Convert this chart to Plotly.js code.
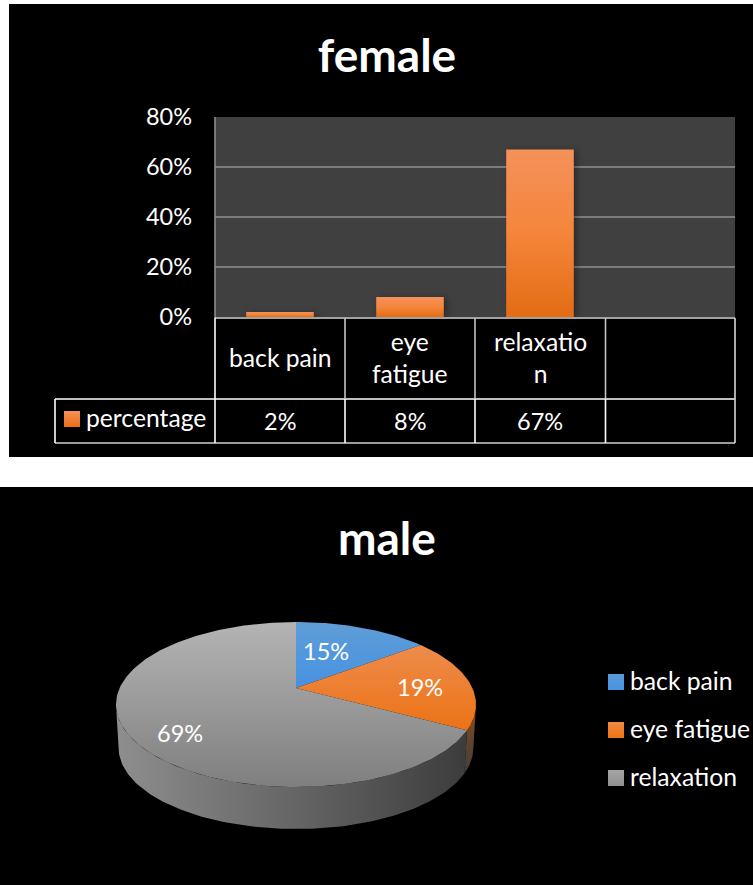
<!DOCTYPE html>
<html>
<head>
<meta charset="utf-8">
<script src="https://cdn.plot.ly/plotly-3.0.1.min.js"></script>
<style>html,body{margin:0;padding:0;background:#fff}</style>
</head>
<body>
<div id="chart" style="width:753px;height:885px"></div>
<script>
// Survey results: female (bars with a data table) and male (tilted pie)
const femaleCategories = ['back pain', 'eye fatigue', 'relaxation', ' '];
const femaleLabels = ['back pain', 'eye<br>fatigue', 'relaxatio<br>n', ''];
const femaleValues = [0.02, 0.08, 0.67, null];
const seriesName = 'percentage';
const yTicks = [0, 0.2, 0.4, 0.6, 0.8];

const maleCategories = ['back pain', 'eye fatigue', 'relaxation'];
const maleValues = [15, 19, 69];
const maleColors = ['#5b9bd5', '#f08a42', '#a5a5a5'];
const maleColorsLow = ['#4692e2', '#ec7215', '#8f8f8f'];

const W = 753, H = 885;
const FONT = 'Lato, "Open Sans", sans-serif';
const px = x => x / W;
const py = y => 1 - y / H;

// Perspective projection of the pie disc onto the frame
const CX = 296, CY = 688, D = 5, FX = 882, FY = 396;
function project(theta, base) {
  const X = Math.sin(theta), Z = Math.cos(theta), k = D + Z;
  const sx = base ? 0.985 : 1, sy = base ? 0.98 : 1, drop = base ? 44 : 0;
  return [CX + sx * FX * X / k, CY + drop - sy * FY * Z / k];
}
function arc(from, to, base) {
  const n = Math.max(2, Math.ceil(Math.abs(to - from) / 0.02));
  const pts = [];
  for (let i = 0; i <= n; i++) pts.push(project(from + (to - from) * i / n, base));
  return pts;
}
function polyTrace(name, pts, gradType, stops) {
  return {
    type: 'scatter', mode: 'lines', name, xaxis: 'x2', yaxis: 'y2',
    x: pts.map(p => p[0]), y: pts.map(p => p[1]),
    fill: 'toself', line: {width: 0}, hoverinfo: 'skip',
    fillgradient: {type: gradType, colorscale: stops}
  };
}

// Slice angles follow the values, clockwise from twelve o'clock
const total = maleValues.reduce((a, b) => a + b, 0);
const edges = [0];
maleValues.forEach(v => edges.push(edges[edges.length - 1] + v / total * 2 * Math.PI));

const topStops = [
  [[0, '#4692e2'], [1, '#5f9dd6']],
  [[0, '#ec7215'], [1, '#ee8c4c']],
  [[0, '#7f7f7f'], [1, '#b4b4b4']]
];

// The side wall runs between the outermost left and right points of the disc
const WALL_RIGHT = 1.77, WALL_LEFT = 4.51;
const wallOrange = arc(WALL_RIGHT, edges[2], true).concat(arc(edges[2], WALL_RIGHT, false));
const wallGray = arc(edges[2], WALL_LEFT, true).concat(arc(WALL_LEFT, edges[2], false));

const traces = [
  {
    type: 'bar', name: seriesName, x: femaleCategories, y: femaleValues,
    width: 0.52, marker: {color: '#ed7d31', line: {width: 0}}, hoverinfo: 'skip'
  },
  polyTrace('wall eye fatigue', wallOrange, 'vertical', [[0, '#3f3f3f'], [1, '#8a4a18']]),
  polyTrace('wall relaxation', wallGray, 'horizontal',
    [[0, '#8e8e8e'], [0.5, '#666666'], [1, '#3c3c3c']]),
  ...maleCategories.map((c, i) => {
    const pts = [[CX, CY]].concat(arc(edges[i], edges[i + 1], false));
    pts.push([CX, CY]);
    return polyTrace(c, pts, 'vertical', topStops[i]);
  }),
  {
    type: 'scatter', mode: 'markers', name: 'key', xaxis: 'x2', yaxis: 'y2',
    x: maleCategories.map(() => 616), y: [682, 730, 778], cliponaxis: false,
    marker: {symbol: 'square', size: 16, color: maleColors, line: {width: 0},
             gradient: {type: 'vertical', color: maleColorsLow}},
    hoverinfo: 'skip'
  },
  {
    type: 'scatter', mode: 'markers', name: seriesName + ' key', xaxis: 'x2', yaxis: 'y2',
    x: [72], y: [419],
    marker: {symbol: 'square', size: 16, color: '#f4915a',
             gradient: {type: 'vertical', color: '#e96f17'}, line: {width: 0}},
    hoverinfo: 'skip'
  }
];

const hLine = (x0, x1, y, color) => ({type: 'line', xref: 'paper', yref: 'paper',
  x0: px(x0), x1: px(x1), y0: py(y), y1: py(y), line: {color, width: 1.6}});
const vLine = (x, y0, y1, color) => ({type: 'line', xref: 'paper', yref: 'paper',
  x0: px(x), x1: px(x), y0: py(y0), y1: py(y1), line: {color, width: 1.6}});

const shapes = [
  {type: 'rect', xref: 'paper', yref: 'paper', layer: 'below', line: {width: 0}, fillcolor: '#000',
   x0: px(9), x1: 1, y0: py(457), y1: py(4)},
  {type: 'rect', xref: 'paper', yref: 'paper', layer: 'below', line: {width: 0}, fillcolor: '#000',
   x0: 0, x1: 1, y0: 0, y1: py(487)},
  {type: 'rect', xref: 'x domain', yref: 'y domain', layer: 'below', line: {width: 0}, fillcolor: '#404040',
   x0: 0, x1: 1, y0: 0, y1: 1},
  vLine(215, 117, 318, '#8c8c8c'),
  hLine(215, 735, 318, '#d8d8d8'),
  hLine(55, 735, 399, '#fff'),
  hLine(55, 735, 443, '#d0d0d0'),
  vLine(55, 399, 443, '#fff'),
  vLine(215, 318, 443, '#fff'),
  vLine(345, 318, 399, '#c4c4c4'),
  vLine(475, 318, 399, '#c4c4c4'),
  vLine(605.5, 318, 399, '#c4c4c4'),
  vLine(345, 399, 443, '#fff'),
  vLine(475, 399, 443, '#fff'),
  vLine(605.5, 399, 443, '#fff'),
  vLine(735, 318, 443, '#d8d8d8')
];

const note = (text, xref, x, yref, y, size) => ({
  text, xref, x, yref, y, showarrow: false, xanchor: 'center', yanchor: 'middle',
  font: {family: FONT, size: size || 23.5, color: '#fff'}
});
const keyLabel = (text, x, y) => ({...note(text, 'x2', x, 'y2', y, 24.7), xanchor: 'left'});

const annotations = [
  // Category row and value row of the data table
  ...femaleCategories.map((c, i) => ({
    ...note(femaleLabels[i], 'x', c, 'paper', py(357), 24.7),
    align: 'center'
  })),
  ...femaleCategories.map((c, i) => note(
    femaleValues[i] === null ? '' : Math.round(femaleValues[i] * 100) + '%',
    'x', c, 'paper', py(420.5))),
  keyLabel(seriesName, 84, 417),
  // Key beside the pie
  ...maleCategories.map((c, i) => keyLabel(c, 628, [680, 728, 776][i])),
  // Slice percentages on the pie
  note(maleValues[0] + '%', 'x2', 326, 'y2', 651),
  note(maleValues[1] + '%', 'x2', 420, 'y2', 687),
  note(maleValues[2] + '%', 'x2', 180, 'y2', 733),
  {
    ...note('male', 'paper', px(387), 'paper', py(537.5), 46),
    font: {family: FONT, size: 46, color: '#fff', weight: 700}
  }
];

const layout = {
  width: W, height: H,
  margin: {l: 0, r: 0, t: 0, b: 0},
  paper_bgcolor: '#fff', plot_bgcolor: 'rgba(0,0,0,0)',
  showlegend: false,
  title: {
    text: 'female', x: px(387), xanchor: 'center', y: py(55.5), yanchor: 'middle',
    font: {family: FONT, size: 46, color: '#fff', weight: 700}
  },
  xaxis: {
    domain: [px(215), px(735)], type: 'category', categoryorder: 'array',
    categoryarray: femaleCategories, range: [-0.5, 3.5],
    showticklabels: false, ticks: '', showgrid: false, zeroline: false, showline: false, fixedrange: true
  },
  yaxis: {
    domain: [py(317), py(117)], range: [0, 0.8], tickvals: yTicks, tickformat: '.0%',
    ticks: '', ticklabelstandoff: 22, gridcolor: '#7c7c7c', gridwidth: 1.4, zeroline: false, showline: false,
    tickfont: {family: FONT, size: 23.5, color: '#fff'}, fixedrange: true
  },
  // Frame measured in pixels for the projected pie and the key swatches
  xaxis2: {domain: [0, 1], range: [0, W], anchor: 'y2', visible: false, fixedrange: true},
  yaxis2: {domain: [0, 1], range: [H, 0], anchor: 'x2', visible: false, fixedrange: true},
  shapes, annotations
};

Plotly.newPlot('chart', traces, layout, {displayModeBar: false, staticPlot: true}).then(gd => {
  // Vertical shading and a soft shadow on the bars
  const svg = gd.querySelector('.main-svg');
  const NS = 'http://www.w3.org/2000/svg';
  const grad = document.createElementNS(NS, 'linearGradient');
  grad.setAttribute('id', 'barShade');
  grad.setAttribute('x1', '0'); grad.setAttribute('y1', '0');
  grad.setAttribute('x2', '0'); grad.setAttribute('y2', '1');
  [['0', '#f4915a'], ['0.5', '#f5853b'], ['1', '#e36c14']].forEach(([o, c]) => {
    const s = document.createElementNS(NS, 'stop');
    s.setAttribute('offset', o); s.setAttribute('stop-color', c);
    grad.appendChild(s);
  });
  svg.querySelector('defs').appendChild(grad);
  gd.querySelectorAll('.barlayer .point path').forEach(p => {
    p.style.fill = 'url(#barShade)';
    p.style.filter = 'drop-shadow(3px 1px 3px rgba(0,0,0,0.35))';
  });
});
</script>
</body>
</html>
